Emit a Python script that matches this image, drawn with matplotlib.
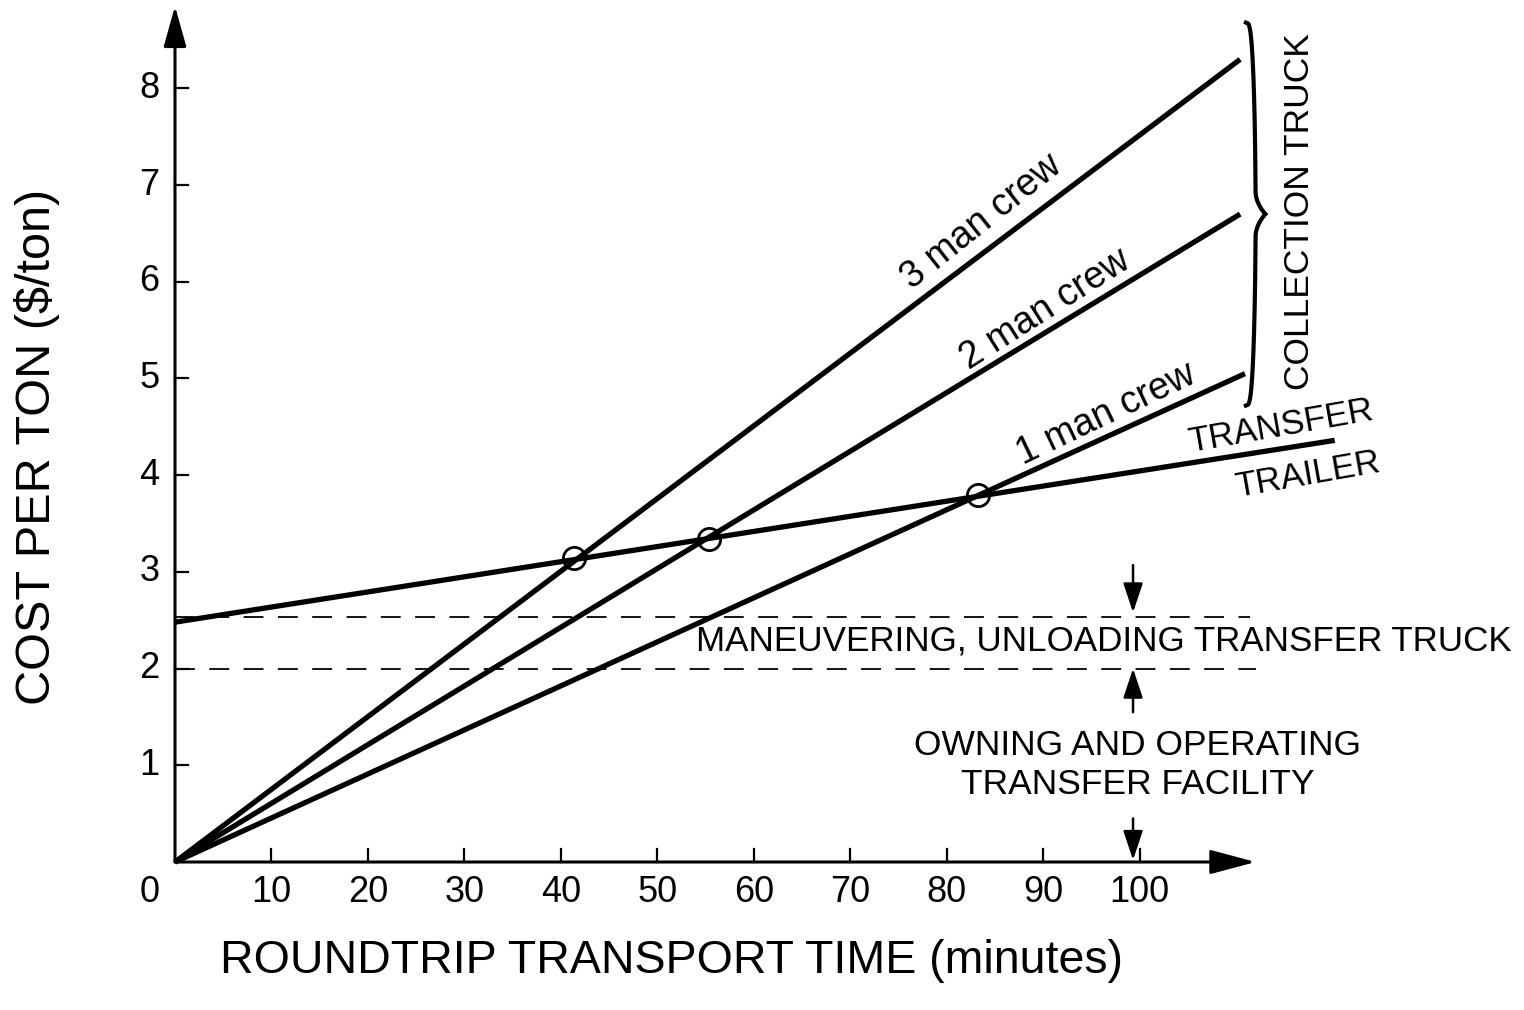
import matplotlib
matplotlib.use("Agg")
import matplotlib.pyplot as plt
import numpy as np

plt.rcParams['font.family'] = ['Liberation Sans', 'DejaVu Sans']

# collection truck lines, all start at the origin
crew_labels = ['1 man crew', '2 man crew', '3 man crew']
crew_x_end = [110.9, 110.4, 110.4]
crew_y_end = [5.05, 6.7, 8.3]

# transfer trailer line
trailer_x = [0, 120.2]
trailer_y = [2.48, 4.36]

# break-even points
cross_x = [41.4, 55.3, 83.2]
cross_y = [3.14, 3.34, 3.79]

# cost bands (dashed)
band_y = [2.53, 2.0]
band_x_end = [111.4, 112.0]

x_ticks = [10, 20, 30, 40, 50, 60, 70, 80, 90, 100]
y_ticks = [1, 2, 3, 4, 5, 6, 7, 8]

fig = plt.figure(figsize=(15.24, 10.10), dpi=100)
ax = fig.add_axes([175 / 1524, 148 / 1010, 1206 / 1524, 851 / 1010])
ax.set_xlim(0, 125)
ax.set_ylim(0, 8.8)
for s in ax.spines.values():
    s.set_visible(False)
ax.set_xticks([])
ax.set_yticks([])

lw = 3.8
for xe, ye in zip(crew_x_end, crew_y_end):
    ax.plot([0, xe], [0, ye], color='black', lw=lw, solid_capstyle='butt', clip_on=False)
ax.plot(trailer_x, trailer_y, color='black', lw=lw, solid_capstyle='butt', clip_on=False)

for yb, xe in zip(band_y, band_x_end):
    ax.plot([0, xe], [yb, yb], color='black', lw=1.3, dashes=(11, 8), clip_on=False)

ax.plot(cross_x, cross_y, 'o', ms=16, mfc='none', mec='black', mew=2, clip_on=False)

# axes with arrows
ax.annotate('', xy=(0, 8.85), xytext=(0, 0),
            arrowprops=dict(arrowstyle='-|>,head_length=2.5,head_width=0.7',
                            color='black', lw=2.2, shrinkA=0, shrinkB=0),
            annotation_clip=False)
ax.annotate('', xy=(112, 0), xytext=(0, 0),
            arrowprops=dict(arrowstyle='-|>,head_length=2.8,head_width=0.75',
                            color='black', lw=2.2, shrinkA=0, shrinkB=0),
            annotation_clip=False)

# inward ticks
for t in x_ticks:
    ax.plot([t, t], [0, 0.13], color='black', lw=1.6, clip_on=False)
    ax.text(t, -0.13, str(t), ha='center', va='top', fontsize=26)
ax.text(-2.6, -0.13, '0', ha='center', va='top', fontsize=26)
for t in y_ticks:
    ax.plot([0, 1.3], [t, t], color='black', lw=1.6, clip_on=False)
    ax.text(-1.6, t, str(t), ha='right', va='center', fontsize=26)

fig.text(671 / 1524, (1010 - 961) / 1010, 'ROUNDTRIP TRANSPORT TIME (minutes)',
         ha='center', va='center', fontsize=33.5)
fig.text(37 / 1524, (1010 - 447) / 1010, 'COST PER TON ($/ton)', rotation=90,
         ha='center', va='center', fontsize=35)

# line labels
lab_pos = [(96.5, 4.63, 25.5), (90.2, 5.71, 32.5), (83.6, 6.62, 38.5)]
for lab, (lx, ly, rot) in zip(crew_labels, lab_pos):
    ax.text(lx, ly, lab, rotation=rot, ha='center', va='center',
            fontsize=27, rotation_mode='anchor')
ax.text(114.6, 4.5, 'TRANSFER', rotation=10, ha='center', va='center', fontsize=25,
        rotation_mode='anchor')
ax.text(117.4, 4.0, 'TRAILER', rotation=10, ha='center', va='center', fontsize=25,
        rotation_mode='anchor')

# brace for collection truck
t = np.linspace(0, 1, 200)
yb0, yb1, ym = 8.68, 4.72, 6.7
xb = 111.0
def half(y_from, y_to):
    yy = y_from + (y_to - y_from) * t
    xx = xb + 1.0 * np.sin(np.pi * t / 2) ** 0.3 + 1.0 * np.clip((t - 0.88) / 0.12, 0, 1) ** 2
    return xx, yy
x1, y1 = half(yb0, ym)
x2, y2 = half(yb1, ym)
ax.plot(x1, y1, color='black', lw=3.0, clip_on=False)
ax.plot(x2, y2, color='black', lw=3.0, clip_on=False)
ax.text(116.6, 6.73, 'COLLECTION TRUCK', rotation=90, ha='center', va='center', fontsize=25.5)

# band annotations
ax.text(54.0, 2.29, 'MANEUVERING, UNLOADING TRANSFER TRUCK', ha='left', va='center', fontsize=25.2)
ax.text(99.8, 1.0, 'OWNING AND OPERATING\nTRANSFER FACILITY', ha='center', va='center',
        fontsize=25.5, linespacing=1.22)
arrow_kw = dict(arrowstyle='-|>,head_length=1.8,head_width=0.6', color='black', lw=1.8,
                shrinkA=0, shrinkB=0)
ax.annotate('', xy=(99.3, 2.58), xytext=(99.3, 3.07), arrowprops=arrow_kw, annotation_clip=False)
ax.annotate('', xy=(99.3, 2.0), xytext=(99.3, 1.55), arrowprops=arrow_kw, annotation_clip=False)
ax.annotate('', xy=(99.3, 0.02), xytext=(99.3, 0.45), arrowprops=arrow_kw, annotation_clip=False)

fig.savefig('out.png', dpi=100)
